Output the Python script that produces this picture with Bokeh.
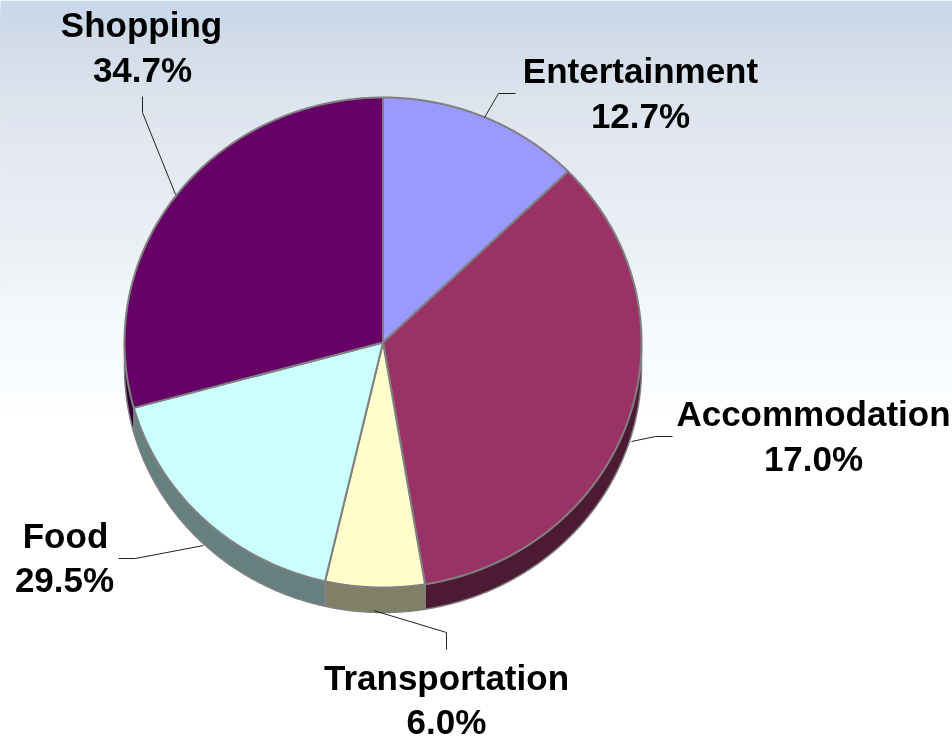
import numpy as np
from bokeh.plotting import figure
from bokeh.models import Range1d
from bokeh.core.properties import value
from bokeh.embed import file_html
from bokeh.resources import INLINE

# Data (slice shares read clockwise from 12 o'clock, as drawn)
slice_values = [12.7, 34.7, 6.2, 17.1, 29.3]
top_colors = ["#9999FF", "#993366", "#FFFFCC", "#CCFFFF", "#660066"]
side_colors = ["#4D4D80", "#4D1A33", "#808066", "#668080", "#330033"]

label_names = ["Entertainment", "Accommodation", "Transportation", "Food", "Shopping"]
label_pcts = ["12.7%", "17.0%", "6.0%", "29.5%", "34.7%"]

# Layout (pixels)
W, H = 952, 737
CX, CY, RX, RY, DEPTH = 382.5, 342.0, 258.5, 245.0, 25.0
name_x = [640, 813, 446, 65, 141]
name_y = [70, 413, 677, 535, 24]
pct_x = [640, 813, 446, 64, 142]
pct_y = [115, 458, 721, 579, 69]
leaders_x = [[515, 498, 484], [672, 655, 631], [446, 446, 373], [118, 135, 203], [142, 142, 175]]
leaders_y = [[93, 93, 117], [436, 436, 441], [649, 632, 610], [558, 558, 545], [96, 112, 194]]
grad_stops_y = [0, 28, 30, 100, 130, 200, 260, 300, 340, 388, 390, 410, 412]
grad_stops_r = [201, 203, 208, 220, 225, 232, 236, 243, 247, 249, 253, 254, 255]
grad_stops_g = [216, 217, 219, 228, 230, 236, 241, 246, 251, 252, 253, 254, 255]
grad_stops_b = [233, 233, 231, 238, 241, 244, 243, 250, 254, 255, 253, 254, 255]

p = figure(width=W, height=H, output_backend="svg", toolbar_location=None,
           x_range=Range1d(0, W), y_range=Range1d(H, 0),
           min_border=0, outline_line_color=None, background_fill_color="white",
           border_fill_color="white", x_axis_type=None, y_axis_type=None)
p.grid.visible = False
p.styles = {"position": "fixed", "left": "0px", "top": "0px"}

# Background gradient: painter's stack of bands, each running down to the white area
band_tops = np.arange(0, 412, 2)
band_r = np.interp(band_tops, grad_stops_y, grad_stops_r).round().astype(int)
band_g = np.interp(band_tops, grad_stops_y, grad_stops_g).round().astype(int)
band_b = np.interp(band_tops, grad_stops_y, grad_stops_b).round().astype(int)
band_colors = ["#%02x%02x%02x" % c for c in zip(band_r, band_g, band_b)]
p.quad(left=0, right=W, top=band_tops.tolist(), bottom=412,
       fill_color=band_colors, line_color=None)

# Slice angles from the values
bounds = np.cumsum([0] + slice_values) / sum(slice_values) * 2 * np.pi
def ex(a): return CX + RX * np.sin(a)
def ey(a): return CY - RY * np.cos(a)

# Side wall (visible lower half of the disc only)
sx, sy, sc = [], [], []
for i in range(len(slice_values)):
    a0 = max(bounds[i], np.pi / 2)
    a1 = min(bounds[i + 1], 3 * np.pi / 2)
    if a1 <= a0:
        continue
    t = np.linspace(a0, a1, 120)
    sx.append(np.r_[ex(t), ex(t[::-1])])
    sy.append(np.r_[ey(t), ey(t[::-1]) + DEPTH])
    sc.append(side_colors[i])
p.patches(sx, sy, fill_color=sc, line_color="#808080", line_width=1.5)

# Top face
tx, ty = [], []
for i in range(len(slice_values)):
    t = np.linspace(bounds[i], bounds[i + 1], 160)
    tx.append(np.r_[CX, ex(t)])
    ty.append(np.r_[CY, ey(t)])
p.patches(tx, ty, fill_color=top_colors, line_color="#808080", line_width=2)

# Leader lines
p.multi_line(leaders_x, leaders_y, line_color="#222222", line_width=1)

# Labels
font = value("Liberation Sans")
p.text(name_x, name_y, text=label_names, text_font=font, text_font_style="bold",
       text_font_size="35px", text_align="center", text_baseline="alphabetic", text_color="black")
p.text(pct_x, pct_y, text=label_pcts, text_font=font, text_font_style="bold",
       text_font_size="35px", text_align="center", text_baseline="alphabetic", text_color="black")

open("out.html", "w").write(file_html(p, INLINE))
